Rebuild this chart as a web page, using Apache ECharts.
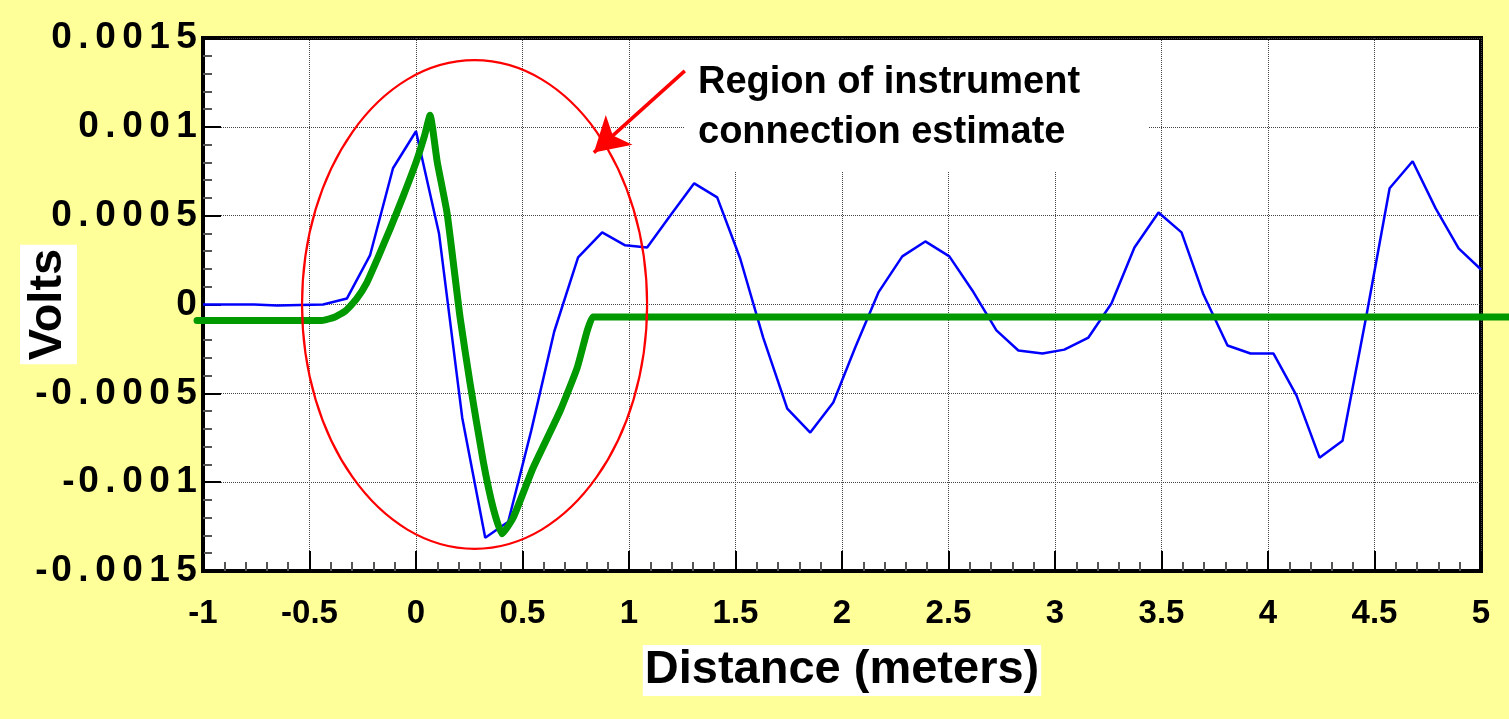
<!DOCTYPE html>
<html style="height: 100%">
  <head>
    <meta charset="utf-8" />
  </head>
  <body style="height: 100%; margin: 0; background: #ffff99">
    <div id="container" style="width: 1509px; height: 719px"></div>

    <script type="text/javascript" src="https://cdn.jsdelivr.net/npm/echarts@6/dist/echarts.min.js"></script>

    <script type="text/javascript">
      var dom = document.getElementById("container");
      var myChart = echarts.init(dom);

      // measured trace (blue)
      var measuredX = [
        -1.0, -0.868, -0.76, -0.652, -0.544, -0.436, -0.324, -0.216, -0.108, 0.0,
        0.108, 0.217, 0.325, 0.433, 0.541, 0.649, 0.761, 0.874, 0.982, 1.085,
        1.194, 1.306, 1.414, 1.522, 1.63, 1.743, 1.851, 1.959, 2.062, 2.171,
        2.283, 2.391, 2.504, 2.612, 2.725, 2.828, 2.941, 3.044, 3.157, 3.265,
        3.373, 3.486, 3.594, 3.697, 3.81, 3.918, 4.026, 4.134, 4.242, 4.35,
        4.463, 4.571, 4.679, 4.787, 4.895, 5.0
      ];
      var measuredY = [
        0, 0, 0, -0.000006, -0.000003, 0, 0.000034, 0.000276, 0.000767, 0.000975,
        0.0004, -0.000637, -0.001313, -0.001223, -0.00071, -0.000152, 0.000265, 0.000406, 0.000333, 0.000321,
        0.000501, 0.000682, 0.000603, 0.000259, -0.000186, -0.000586, -0.000721, -0.000552, -0.000242, 0.000068,
        0.000271, 0.000355, 0.000271, 0.000079, -0.000146, -0.000259, -0.000276, -0.000254, -0.000186, 0.000006,
        0.000321, 0.000518, 0.000406, 0.000056, -0.000231, -0.000276, -0.000276, -0.000513, -0.000862, -0.000767,
        -0.000056, 0.000654, 0.000806, 0.000541, 0.000316, 0.000197
      ];

      // connection estimate (green); it runs past both ends of the frame
      var estimateX = [
        -1.028, -0.441, -0.38, -0.33, -0.28, -0.23, -0.18, -0.12, -0.06, 0.0,
        0.04, 0.066, 0.1, 0.146, 0.207, 0.254, 0.315, 0.362, 0.404, 0.456,
        0.55, 0.677, 0.757, 0.804, 0.83, 0.865, 5.131
      ];
      var estimateY = [
        -0.00009, -0.00009, -0.00007, -0.000035, 0.00003, 0.000125, 0.00026, 0.00043, 0.00061, 0.0008,
        0.00095, 0.001065, 0.0008, 0.000513, -0.000073, -0.000445, -0.000879, -0.001144, -0.001291, -0.001201,
        -0.000919, -0.000598, -0.000355, -0.000147, -0.00007, -0.00007, -0.00007
      ];

      // annotation: ellipse (centre + radii in data units) and arrow
      var regionEllipse = { cx: 0.275, cy: 0, rx: 0.81, ry: 0.001375 };
      var arrowFrom = [1.262, 0.001315];
      var arrowTo = [0.835, 0.000855];
      var noteLines = ["Region of instrument", "connection estimate"];

      function pairs(xs, ys) {
        return xs.map(function (x, i) {
          return [x, ys[i]];
        });
      }

      var font = "Liberation Sans, Arial, sans-serif";
      var yLabelStyle = { fontFamily: font, fontWeight: "bold", fontSize: 37, color: "#000", align: "center" };

      function spacedLabel(v) {
        var s = String(parseFloat(v.toPrecision(6)));
        return s
          .split("")
          .map(function (ch) {
            if (ch === ".") return "{p|.}";
            if (ch === "-") return "{m|-}";
            return "{d|" + ch + "}";
          })
          .join("");
      }

      var option = {
        backgroundColor: "#ffff99",
        animation: false,
        grid: [
          {
            left: 203,
            right: 28,
            top: 38,
            bottom: 148,
            containLabel: false,
            outerBoundsMode: "none",
            show: true,
            backgroundColor: "#fff",
            borderColor: "#000",
            borderWidth: 4,
          },
          // same scale, wider box, so the estimate can run out to the page edge
          { left: 197, right: 0, top: 38, bottom: 148, containLabel: false, outerBoundsMode: "none", show: false },
        ],
        xAxis: [
          {
            type: "value",
            min: -1,
            max: 5,
            interval: 0.5,
            name: "Distance (meters)",
            nameLocation: "middle",
            nameGap: 74,
            nameMoveOverlap: false,
            nameTextStyle: {
              fontFamily: font,
              fontWeight: "bold",
              fontSize: 47,
              color: "#000",
              backgroundColor: "#fff",
              padding: [2, 2],
            },
            axisLine: { onZero: false, lineStyle: { color: "#000", width: 4 } },
            axisTick: { inside: true, length: 20, lineStyle: { color: "#000", width: 2 } },
            minorTick: { show: true, splitNumber: 5, length: 9, lineStyle: { color: "#555", width: 2 } },
            axisLabel: {
              margin: 26,
              fontFamily: font,
              fontWeight: "bold",
              fontSize: 33,
              color: "#000",
            },
            splitLine: { show: true, lineStyle: { color: "#444", width: 1, type: [1, 1] } },
          },
          {
            type: "value",
            gridIndex: 1,
            min: -1.02817,
            max: 5.13146,
            show: false,
          },
        ],
        yAxis: [
          {
            type: "value",
            min: -0.0015,
            max: 0.0015,
            interval: 0.0005,
            name: "Volts",
            nameLocation: "middle",
            nameGap: 126,
            nameRotate: 90,
            nameMoveOverlap: false,
            nameTextStyle: {
              fontFamily: font,
              fontWeight: "bold",
              fontSize: 47,
              color: "#000",
              backgroundColor: "#fff",
              padding: [5, 4],
            },
            axisLine: { onZero: false, lineStyle: { color: "#000", width: 4 } },
            axisTick: { inside: true, length: 18, lineStyle: { color: "#000", width: 2 } },
            minorTick: { show: true, splitNumber: 5, length: 9, lineStyle: { color: "#555", width: 2 } },
            axisLabel: {
              margin: 3,
              formatter: spacedLabel,
              rich: {
                d: Object.assign({ width: 27 }, yLabelStyle),
                p: Object.assign({ width: 17 }, yLabelStyle),
                m: Object.assign({ width: 13 }, yLabelStyle),
              },
            },
            splitLine: { show: true, lineStyle: { color: "#444", width: 1, type: [1, 1] } },
          },
          {
            type: "value",
            gridIndex: 1,
            min: -0.0015,
            max: 0.0015,
            show: false,
          },
        ],
        series: [
          {
            name: "measured",
            type: "line",
            data: pairs(measuredX, measuredY),
            symbol: "none",
            lineStyle: { color: "#0000ff", width: 2.5 },
            z: 3,
            markLine: {
              silent: true,
              symbol: ["none", "arrow"],
              symbolSize: [30, 34],
              label: { show: false },
              lineStyle: { color: "#ff0000", width: 3.5, type: "solid" },
              data: [[{ coord: arrowFrom }, { coord: arrowTo }]],
            },
          },
          {
            name: "estimate",
            type: "line",
            xAxisIndex: 1,
            yAxisIndex: 1,
            data: pairs(estimateX, estimateY),
            symbol: "none",
            smooth: 0.15,
            lineStyle: { color: "#009900", width: 7, cap: "round", join: "round" },
            z: 4,
          },
        ],
      };

      myChart.setOption(option);

      // place annotations through the chart's own coordinate system
      var c = myChart.convertToPixel({ gridIndex: 0 }, [regionEllipse.cx, regionEllipse.cy]);
      var e = myChart.convertToPixel({ gridIndex: 0 }, [regionEllipse.cx + regionEllipse.rx, regionEllipse.cy + regionEllipse.ry]);

      myChart.setOption({
        graphic: [
          {
            type: "ellipse",
            z: 5,
            silent: true,
            shape: { cx: c[0], cy: c[1], rx: Math.abs(e[0] - c[0]), ry: Math.abs(c[1] - e[1]) },
            style: { fill: null, stroke: "#ff0000", lineWidth: 2.2 },
          },
          {
            type: "rect",
            z: 1,
            silent: true,
            shape: { x: 685, y: 40, width: 463, height: 132 },
            style: { fill: "#fff" },
          },
          {
            type: "text",
            z: 6,
            silent: true,
            left: 698,
            top: 58,
            style: {
              text: noteLines.join("\n"),
              font: "bold 38px " + font,
              lineHeight: 50,
              fill: "#000",
            },
          },
        ],
      });
    </script>
  </body>
</html>
